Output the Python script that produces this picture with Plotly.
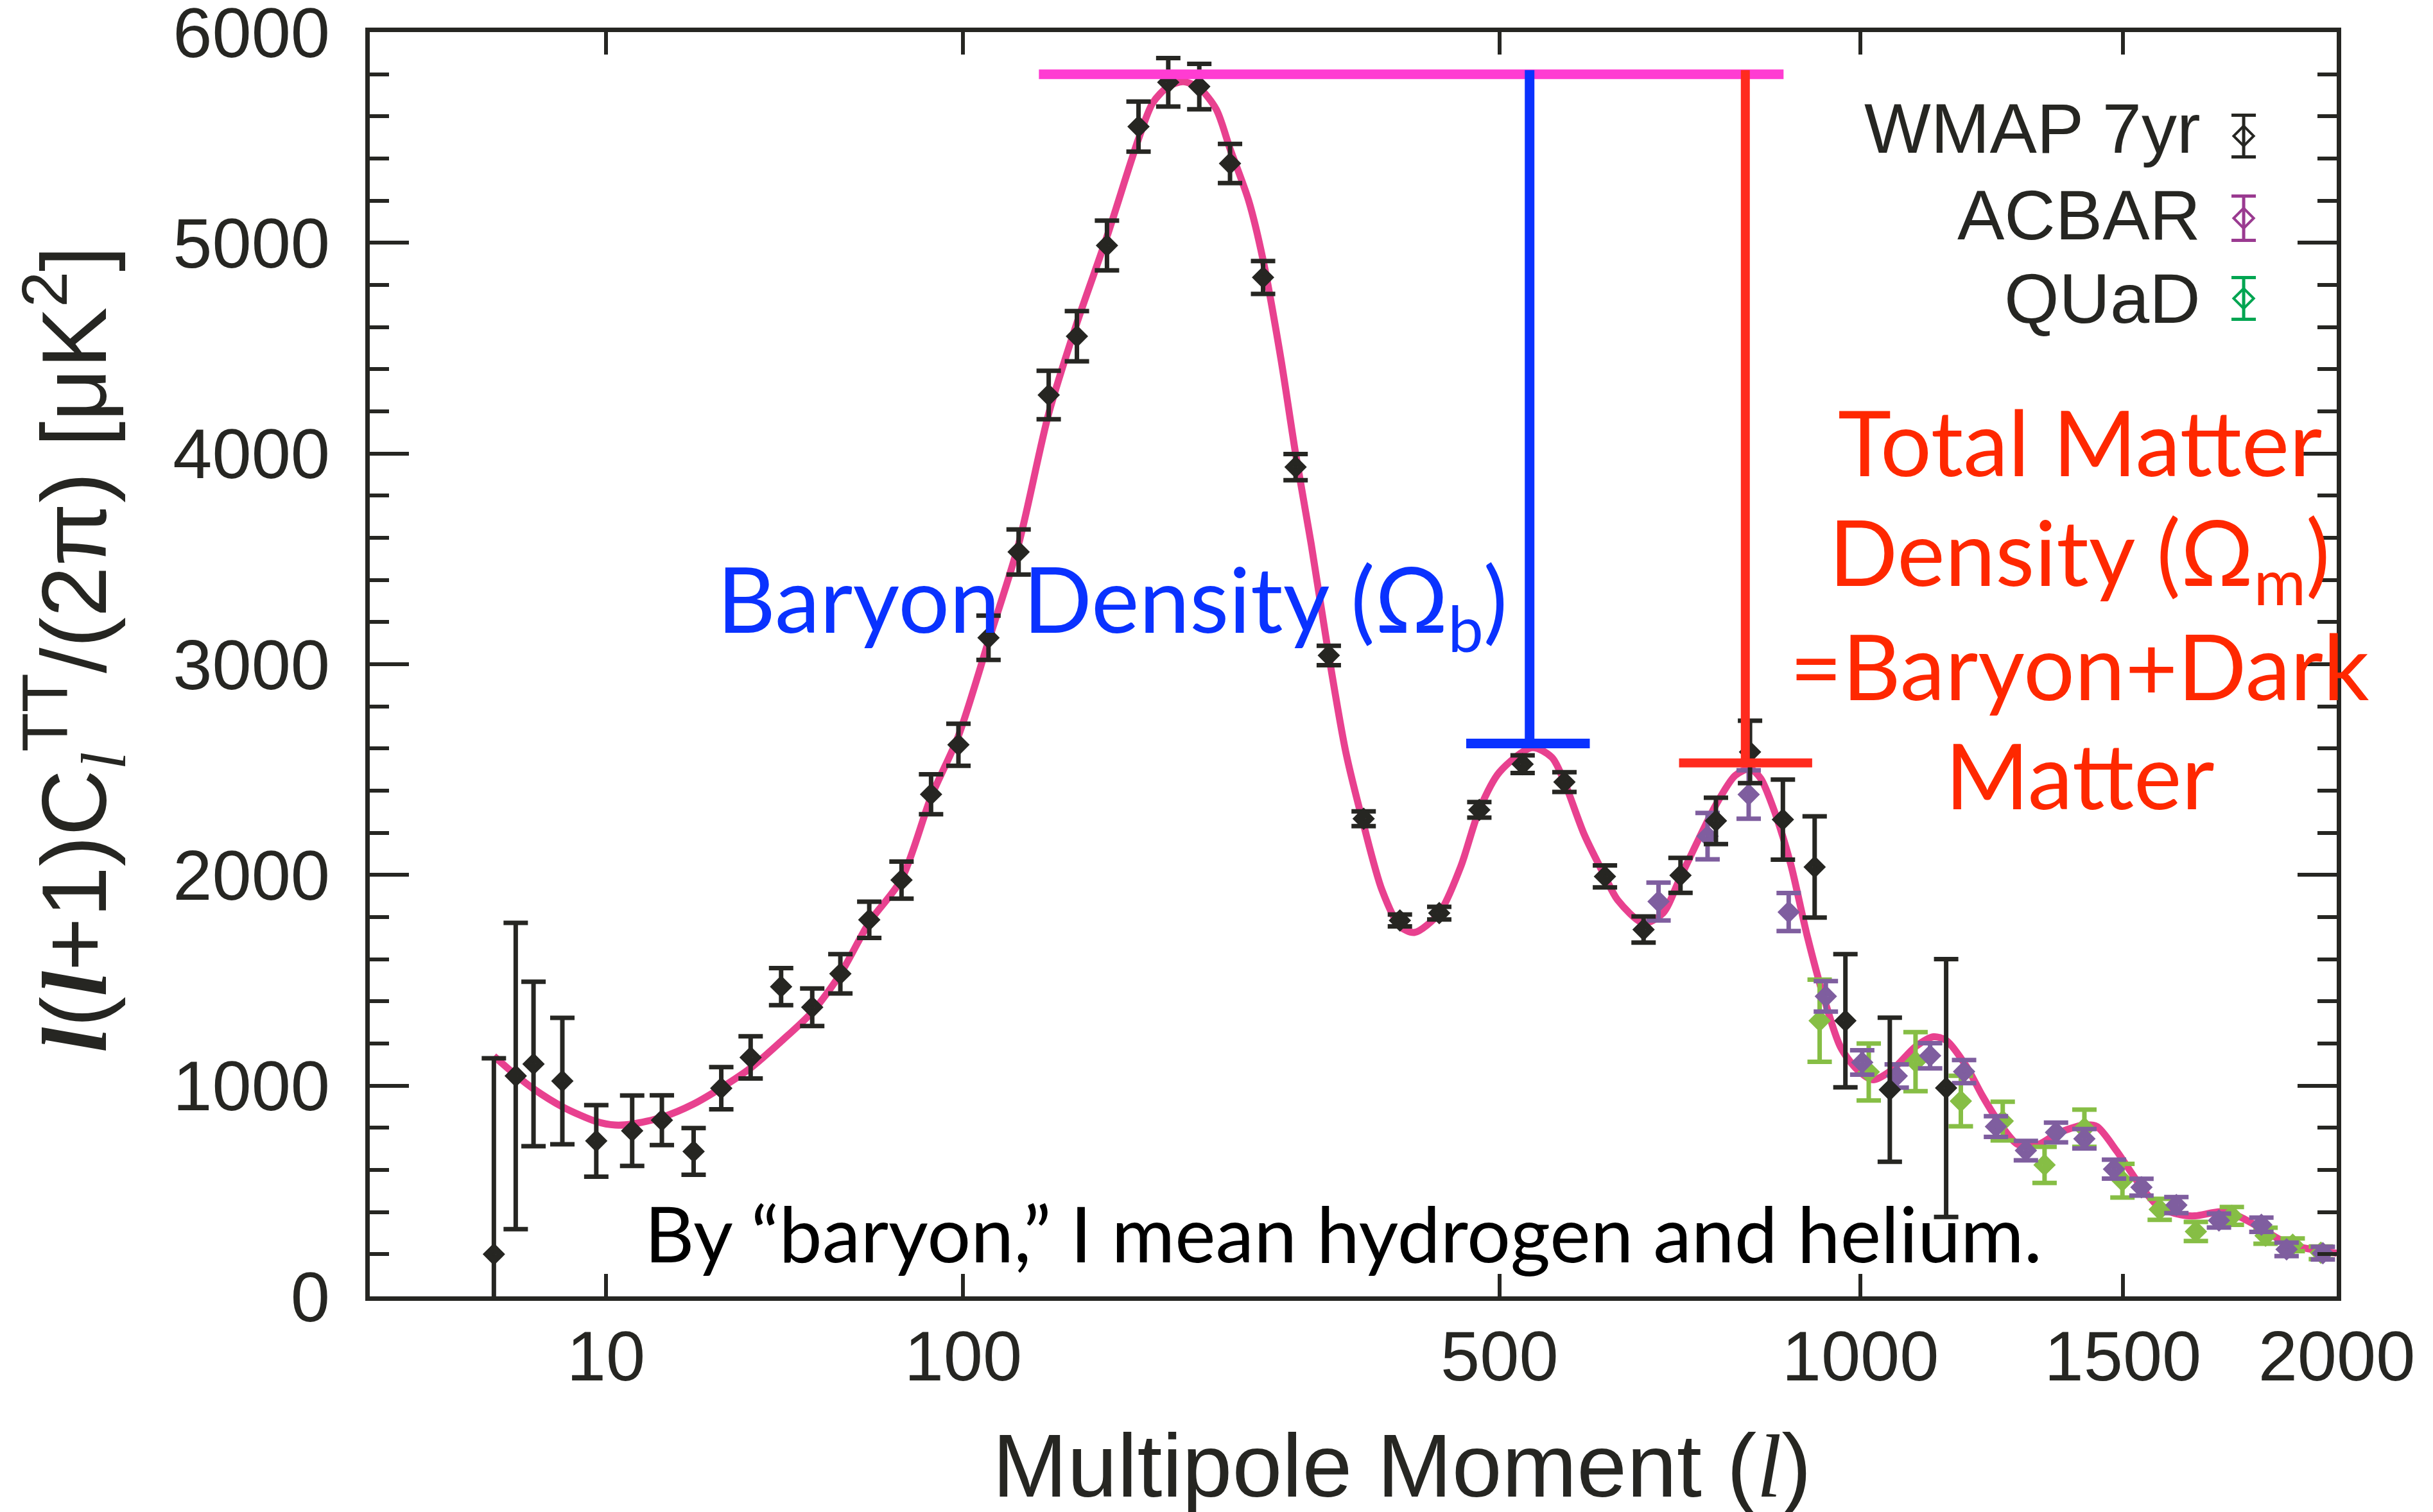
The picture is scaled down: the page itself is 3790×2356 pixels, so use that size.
import numpy as np
import plotly.graph_objects as go

# ---------------- data ----------------
# WMAP 7yr binned TT spectrum
wmap_l = [2, 3, 4, 6, 9, 13, 17, 22, 27, 33, 40, 48, 56, 65, 76, 87, 98, 111, 125,
          140, 155, 172, 191, 210, 231, 253, 278, 304, 332, 363, 397, 436, 478, 526,
          575, 625, 675, 725, 775, 825, 875, 925, 975, 1050, 1150]
wmap_v = [200, 1046, 1103, 1022, 738, 786, 836, 688, 988, 1134, 1470, 1372, 1531, 1787,
          1976, 2383, 2618, 3126, 3533, 4278, 4557, 4988, 5552, 5762, 5742, 5377, 4836,
          3936, 3042, 2267, 1784, 1819, 2309, 2526, 2441, 1993, 1741, 1998, 2257, 2584,
          2263, 2038, 1308, 981, 989]
wmap_e = [930, 727, 390, 300, 170, 167, 118, 111, 100, 100, 88, 89, 93, 86, 88, 95, 100,
          105, 107, 115, 119, 118, 119, 115, 108, 93, 78, 62, 46, 35, 28, 30, 37, 42, 47,
          52, 62, 83, 110, 148, 190, 240, 316, 342, 612]

# ACBAR
acbar_l = [695, 763, 823, 884, 943, 1003, 1062, 1121, 1183, 1243, 1301, 1361, 1419,
           1481, 1540, 1617, 1714, 1814, 1875, 1965]
acbar_v = [1874, 2184, 2382, 1824, 1424, 1110, 1046, 1142, 1067, 806, 692, 778, 748,
           604, 518, 433, 360, 340, 223, 205]
acbar_e = [90, 110, 115, 90, 72, 58, 55, 60, 55, 49, 46, 47, 46, 45, 40, 38, 33, 34, 32, 30]

# QUaD
quad_l = [933, 1014, 1095, 1177, 1256, 1338, 1419, 1499, 1580, 1661, 1744, 1824, 1890, 1960]
quad_v = [1308, 1065, 1114, 927, 832, 624, 798, 549, 413, 308, 382, 288, 245, 207]
quad_e = [195, 135, 140, 120, 92, 86, 88, 80, 50, 45, 42, 38, 30, 30]

# best-fit model curve
model_l = [2, 3, 4, 6, 9, 11, 13, 17, 22, 27, 33, 40, 48, 56, 65, 76, 87, 98, 111, 125,
           140, 155, 172, 191, 200, 210, 220, 231, 243, 253, 267, 278, 292, 304, 317, 332,
           347, 363, 380, 397, 411, 436, 458, 478, 500, 537, 560, 575, 599, 625, 641, 675,
           701, 725, 775, 803, 825, 841, 862, 887, 913, 940, 967, 995, 1021, 1054, 1095,
           1127, 1150, 1187, 1217, 1248, 1286, 1325, 1365, 1418, 1445, 1487, 1535, 1578,
           1627, 1659, 1720, 1762, 1812, 1866, 1915, 1964, 2000]
model_v = [1140, 1050, 985, 900, 830, 813, 818, 850, 913, 990, 1084, 1210, 1350, 1530,
           1775, 1980, 2370, 2660, 3110, 3570, 4190, 4620, 5030, 5494, 5665, 5742, 5765,
           5735, 5634, 5447, 5199, 4919, 4453, 4000, 3570, 3042, 2581, 2238, 1928, 1757,
           1727, 1819, 2037, 2309, 2488, 2604, 2558, 2441, 2193, 1993, 1882, 1772, 1819,
           1990, 2333, 2472, 2504, 2458, 2302, 2053, 1712, 1416, 1183, 1075, 1028, 1075,
           1185, 1232, 1215, 1093, 953, 829, 720, 720, 775, 813, 806, 689, 534, 425, 387,
           382, 402, 378, 324, 262, 231, 216, 205]

x_tick_vals = [10, 100, 500, 1000, 1500, 2000]
x_tick_text = ["10", "100", "500", "1000", "1500", "2000"]
y_tick_vals = [0, 1000, 2000, 3000, 4000, 5000, 6000]

# annotation guide lines (data units: multipole l, power)
peak_level = 5800
peak_span = (135, 876)
baryon_l, baryon_cap, baryon_cap_span = 534, 2624, (464, 606)
matter_l, matter_cap, matter_cap_span = 818, 2532, (723, 921)

# ---------------- helpers ----------------
POW = 0.4  # the multipole axis is drawn in l^0.4


def tx(l):
    return np.asarray(l, dtype=float) ** POW


INK = "#262622"
MODEL = "#E8418F"
ACBAR_C = "#7F5E9F"
QUAD_C = "#86BE45"

fig = go.Figure()

fig.add_trace(go.Scatter(x=tx(model_l), y=model_v, mode="lines",
                         line=dict(color=MODEL, width=11, shape="spline", smoothing=0.8),
                         showlegend=False, hoverinfo="skip"))


def data_trace(l, v, e, color):
    return go.Scatter(
        x=tx(l), y=v, mode="markers",
        marker=dict(symbol="diamond-open", size=16, color=color, line=dict(color=color, width=10)),
        error_y=dict(type="data", array=e, visible=True, color=color, thickness=7, width=19),
        showlegend=False)


fig.add_trace(data_trace(quad_l, quad_v, quad_e, QUAD_C))
fig.add_trace(data_trace(acbar_l, acbar_v, acbar_e, ACBAR_C))
fig.add_trace(data_trace(wmap_l, wmap_v, wmap_e, INK))

# legend samples on an overlay axis in [0,1] x [0,1]
leg_items = [("WMAP 7yr", INK, 0.9178, 0.0165, 0.9239),
             ("ACBAR", "#9A3A90", 0.8528, 0.0175, 0.8558),
             ("QUaD", "#00A551", 0.7893, 0.0165, 0.7898)]
for name, col, ym, err, ty in leg_items:
    fig.add_trace(go.Scatter(
        x=[0.9527], y=[ym], xaxis="x2", yaxis="y2", mode="markers",
        marker=dict(symbol="diamond-open", size=24, color=col, line=dict(color=col, width=4)),
        error_y=dict(type="data", array=[err], visible=True, color=col, thickness=5, width=19),
        showlegend=False, hoverinfo="skip"))

shapes = []
shapes.append(dict(type="line", xref="x", yref="y", x0=float(tx(peak_span[0])), x1=float(tx(peak_span[1])),
                   y0=peak_level, y1=peak_level, line=dict(color="#FF3CD2", width=15), layer="above"))
shapes.append(dict(type="line", xref="x", yref="y", x0=float(tx(baryon_l)), x1=float(tx(baryon_l)),
                   y0=peak_level + 20, y1=baryon_cap, line=dict(color="#0A32FF", width=15), layer="above"))
shapes.append(dict(type="line", xref="x", yref="y", x0=float(tx(baryon_cap_span[0])), x1=float(tx(baryon_cap_span[1])),
                   y0=baryon_cap, y1=baryon_cap, line=dict(color="#0A32FF", width=15), layer="above"))
shapes.append(dict(type="line", xref="x", yref="y", x0=float(tx(matter_l)), x1=float(tx(matter_l)),
                   y0=peak_level + 20, y1=matter_cap, line=dict(color="#FF2B1E", width=14), layer="above"))
shapes.append(dict(type="line", xref="x", yref="y", x0=float(tx(matter_cap_span[0])), x1=float(tx(matter_cap_span[1])),
                   y0=matter_cap, y1=matter_cap, line=dict(color="#FF2B1E", width=14), layer="above"))

SANS = "Liberation Sans, Arial, Helvetica, sans-serif"
HUM = "Lato, Open Sans, sans-serif"
ann = []
for name, col, ym, err, ty in leg_items:
    ann.append(dict(text=name, xref="paper", yref="paper", x=0.9315, y=ty, xanchor="right",
                    yanchor="middle", showarrow=False, font=dict(family=SANS, size=110, color=INK)))

ann.append(dict(text="Baryon Density (Ω<sub>b</sub>)", xref="paper", yref="paper", x=0.3776, y=0.547,
                xanchor="center", yanchor="middle", showarrow=False,
                font=dict(family=HUM, size=141, color="#0A32FF")))
red_lines = [("Total Matter", 0.6763), ("Density (Ω<sub>m</sub>)", 0.5843),
             ("=Baryon+Dark", 0.4990), ("Matter", 0.4131)]
for t, yy in red_lines:
    ann.append(dict(text=t, xref="paper", yref="paper", x=0.8694, y=yy, xanchor="center",
                    yanchor="middle", showarrow=False, font=dict(family=HUM, size=141, color="#FF2800")))
ann.append(dict(text="By “baryon,” I mean hydrogen and helium.", xref="paper", yref="paper",
                x=0.4951, y=0.0503, xanchor="center", yanchor="middle", showarrow=False,
                font=dict(family=HUM, size=120, color="#000000")))

LSER = "font-family:'Liberation Serif', serif"
ann.append(dict(text=f"Multipole Moment (<span style=\"{LSER}\"><i>l</i></span>)", xref="paper",
                yref="paper", x=0.5248, y=-0.134, xanchor="center", yanchor="middle",
                showarrow=False, font=dict(family=SANS, size=140, color=INK)))
ytitle = (f"<span style=\"{LSER}\"><b><i>l</i></b></span>(<span style=\"{LSER}\"><b><i>l</i></b></span>+1)"
          f"C<sub><span style=\"{LSER}\"><i>l</i></span></sub><sup>TT</sup>/(2π) [μK<sup>2</sup>]")
ann.append(dict(text=ytitle, xref="paper", yref="paper", x=-0.1505, y=0.512, xanchor="center",
                yanchor="middle", textangle=-90, showarrow=False,
                font=dict(family=SANS, size=143, color=INK)))

fig.update_layout(
    width=3790, height=2356,
    margin=dict(l=568, r=158, t=42, b=344, autoexpand=False),
    paper_bgcolor="white", plot_bgcolor="white",
    showlegend=False,
    shapes=shapes, annotations=ann,
    xaxis=dict(range=[0, float(tx(2000))], tickvals=tx(x_tick_vals), ticktext=x_tick_text,
               ticks="inside", ticklen=35, tickwidth=6, tickcolor=INK, automargin=False,
               showline=True, linewidth=7, linecolor=INK, mirror="allticks",
               showgrid=False, zeroline=False, ticklabelstandoff=-8, ticklabeloverflow="allow",
               tickfont=dict(family=SANS, size=110, color=INK)),
    yaxis=dict(range=[0, 6000.5], tickvals=y_tick_vals, ticks="inside", ticklen=61, tickwidth=6,
               tickcolor=INK, showline=True, linewidth=7, linecolor=INK, mirror="allticks",
               showgrid=False, zeroline=False, ticklabelstandoff=33, ticklabeloverflow="allow",
               automargin=False,
               minor=dict(dtick=200, ticks="inside", ticklen=30, tickwidth=6, tickcolor=INK, showgrid=False),
               tickfont=dict(family=SANS, size=110, color=INK)),
    xaxis2=dict(range=[0, 1], overlaying="x", visible=False, anchor="y2"),
    yaxis2=dict(range=[0, 1], overlaying="y", visible=False, anchor="x2"),
)

fig.write_html("out.html")
